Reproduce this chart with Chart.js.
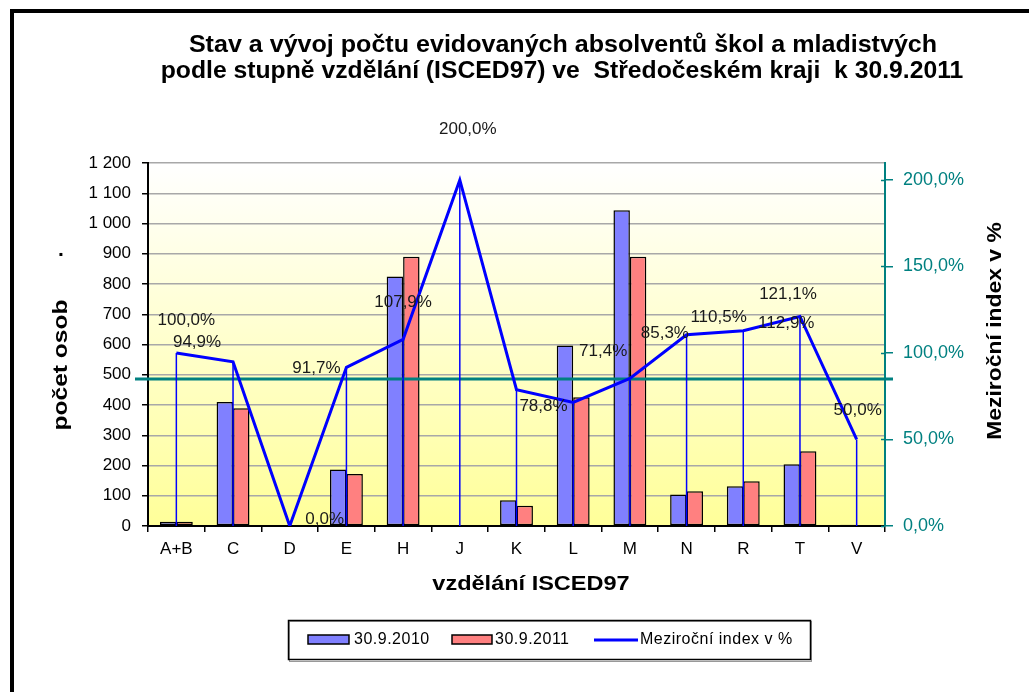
<!DOCTYPE html>
<html><head><meta charset="utf-8">
<script src="https://cdn.jsdelivr.net/npm/chart.js@4/dist/chart.umd.min.js"></script>
<style>html,body{margin:0;padding:0;background:#fff;overflow:hidden}canvas{display:block}</style>
</head><body>
<div style="width:1029px;height:692px;position:relative"><canvas id="c" width="1029" height="692"></canvas></div>
<script>
// ---- data ----
const categories = ['A+B','C','D','E','H','J','K','L','M','N','R','T','V'];
const values2010 = [14, 410, 2, 187, 825, 1, 85, 597, 1044, 104, 131, 204, 4];
const values2011 = [14, 389, 0, 172, 890, 2, 67, 426, 890, 115, 148, 247, 2];
const indexValues = [100.0, 94.9, 0.0, 91.7, 107.9, 200.0, 78.8, 71.4, 85.3, 110.5, 112.9, 121.1, 50.0];
const averageIndex = 85.0;
const leftTicks = [0,100,200,300,400,500,600,700,800,900,1000,1100,1200];
const rightTicks = [0,50,100,150,200];
const seriesLabels = ['30.9.2010','30.9.2011','Meziroční index v %'];
const titleLines = ['Stav a vývoj počtu evidovaných absolventů škol a mladistvých',
                    'podle stupně vzdělání (ISCED97) ve  Středočeském kraji  k 30.9.2011'];
const xTitle = 'vzdělání ISCED97';
const yTitle = 'počet osob';
const y1Title = 'Meziroční index v %';

// label placement offsets (px) relative to each line point
const labelOffsets = [[10,-33],[-36,-19],[35,-7],[-30,1],[0,-37],[8,-51],[27,17],[30,-51],[35,-45],[32,-17],[43,-7],[-12,-22],[1,-29]];

const FONT = '"Liberation Sans", Arial, sans-serif';
const fmtPct = v => v.toFixed(1).replace('.', ',') + '%';
const fmtNum = v => v >= 1000 ? Math.floor(v/1000) + ' ' + String(v%1000).padStart(3,'0') : String(v);

function stretchText(c, text, x, y, sx, rot) {
  c.save();
  c.translate(x, y);
  if (rot) c.rotate(rot);
  c.scale(sx, 1);
  c.fillText(text, 0, 0);
  c.restore();
}

const decor = {
  id: 'decor',
  beforeDraw(chart) {
    const c = chart.ctx, a = chart.chartArea;
    c.save();
    c.fillStyle = '#fff';
    c.fillRect(0, 0, chart.width, chart.height);
    const g = c.createLinearGradient(0, a.top, 0, a.bottom);
    g.addColorStop(0, '#ffffff');
    g.addColorStop(1, '#ffff99');
    c.fillStyle = g;
    c.fillRect(a.left, a.top, a.right - a.left, a.bottom - a.top);
    // outer frame
    c.fillStyle = '#000';
    c.fillRect(10, 9, chart.width - 10, 4);
    c.fillRect(10, 9, 4, chart.height - 9);
    c.restore();
  },
  afterDatasetDraw(chart, args) {
    if (args.index === 0) return;
    // very low bars: show their outline as a thin black line (as in the original)
    const c = chart.ctx;
    c.save();
    c.fillStyle = '#000';
    args.meta.data.forEach(el => {
      const h = Math.abs(el.base - el.y);
      if (h >= 0.5 && h < 2) c.fillRect(el.x - el.width / 2, el.base - 3, el.width, 2.5);
    });
    c.restore();
  },
  beforeDatasetDraw(chart, args) {
    if (args.index !== 0) return;
    const c = chart.ctx, a = chart.chartArea;
    const y1 = chart.scales.y1, x = chart.scales.x;
    c.save();
    // average line
    const ya = y1.getPixelForValue(averageIndex);
    c.strokeStyle = '#008080';
    c.lineWidth = 3;
    c.beginPath(); c.moveTo(a.left - 13, ya); c.lineTo(a.right + 8, ya); c.stroke();
    // drop lines
    c.strokeStyle = '#0000ff';
    c.lineWidth = 1.5;
    indexValues.forEach((v, i) => {
      const px = x.getPixelForValue(i);
      c.beginPath(); c.moveTo(px, y1.getPixelForValue(v)); c.lineTo(px, a.bottom); c.stroke();
    });
    c.restore();
  },
  afterDraw(chart) {
    const c = chart.ctx, a = chart.chartArea;
    const y1 = chart.scales.y1, x = chart.scales.x;
    c.save();
    // inner right ticks
    c.strokeStyle = '#008080'; c.lineWidth = 1.5;
    rightTicks.forEach(t => {
      const py = Math.round(y1.getPixelForValue(t)) + 0.5;
      c.beginPath(); c.moveTo(a.right - 4, py); c.lineTo(a.right, py); c.stroke();
    });
    // data labels
    c.fillStyle = '#1a1a1a';
    c.font = '17px ' + FONT;
    c.textAlign = 'center'; c.textBaseline = 'middle';
    indexValues.forEach((v, i) => {
      const px = x.getPixelForValue(i), py = y1.getPixelForValue(v);
      c.fillText(fmtPct(v), px + labelOffsets[i][0], py + labelOffsets[i][1]);
    });
    // title
    c.fillStyle = '#000';
    c.font = 'bold 23px ' + FONT;
    c.textBaseline = 'alphabetic';
    stretchText(c, titleLines[0], 563, 52, 1.09);
    stretchText(c, titleLines[1], 562, 78, 1.075);
    // axis titles
    c.font = 'bold 21px ' + FONT;
    c.textBaseline = 'middle';
    stretchText(c, xTitle, 531, 584, 1.12);
    stretchText(c, yTitle, 61, 365, 1.17, -Math.PI / 2);
    c.fillText('.', 61, 250);
    stretchText(c, y1Title, 995, 331, 1.09, -Math.PI / 2);
    // legend
    c.fillStyle = '#fff';
    c.fillRect(288, 620, 523, 40);
    c.strokeStyle = '#999'; c.lineWidth = 1;
    c.strokeRect(289.5, 621.5, 522, 40);
    c.strokeStyle = '#000'; c.lineWidth = 1.5;
    c.strokeRect(288.5, 620.5, 522, 39);
    const ly = 640;
    c.font = '16px ' + FONT; c.textAlign = 'left'; c.textBaseline = 'middle';
    c.letterSpacing = '0.5px';
    c.fillStyle = '#8080ff'; c.fillRect(308, 635, 41, 9); c.strokeRect(308, 635, 41, 9);
    c.fillStyle = '#000'; c.fillText(seriesLabels[0], 354, ly);
    c.fillStyle = '#ff8080'; c.fillRect(452, 635, 40, 9); c.strokeRect(452, 635, 40, 9);
    c.fillStyle = '#000'; c.fillText(seriesLabels[1], 495, ly);
    c.strokeStyle = '#0000ff'; c.lineWidth = 3;
    c.beginPath(); c.moveTo(594, ly); c.lineTo(638, ly); c.stroke();
    c.fillStyle = '#000'; c.fillText(seriesLabels[2], 640, ly);
    c.restore();
  }
};

new Chart(document.getElementById('c'), {
  type: 'bar',
  data: {
    labels: categories,
    datasets: [
      { type: 'line', label: seriesLabels[2], data: indexValues, yAxisID: 'y1',
        borderColor: '#0000ff', borderWidth: 3, pointRadius: 0, tension: 0, order: 0 },
      { label: seriesLabels[0], data: values2010, yAxisID: 'y', backgroundColor: '#8080ff',
        borderColor: '#000', borderWidth: 1.5, borderSkipped: false, order: 1 },
      { label: seriesLabels[1], data: values2011, yAxisID: 'y', backgroundColor: '#ff8080',
        borderColor: '#000', borderWidth: 1.5, borderSkipped: false, order: 1 }
    ]
  },
  options: {
    responsive: false, animation: false, events: [],
    layout: { padding: { top: 163, left: 0, right: 0, bottom: 0 } },
    datasets: { bar: { categoryPercentage: 0.58, barPercentage: 1 } },
    plugins: { legend: { display: false }, title: { display: false }, tooltip: { enabled: false } },
    scales: {
      x: {
        grid: { offset: true, drawOnChartArea: false, tickLength: 6, tickColor: '#000', lineWidth: 1.5 },
        border: { color: '#000', width: 2 },
        ticks: { color: '#000', font: { family: FONT, size: 17 }, padding: 7, maxRotation: 0, autoSkip: false },
        afterFit(s) { s.height = 166; }
      },
      y: {
        position: 'left', min: 0, max: 1200,
        afterBuildTicks(s) { s.ticks = leftTicks.map(v => ({ value: v })); },
        grid: { color: '#a8a8a8', lineWidth: 1.5, tickColor: '#000', tickLength: 6 },
        border: { color: '#000', width: 2 },
        ticks: { color: '#000', font: { family: FONT, size: 17 }, padding: 11, callback: v => fmtNum(v) },
        afterFit(s) { s.width = 148; }
      },
      y1: {
        position: 'right', min: 0, max: 209.8,
        afterBuildTicks(s) { s.ticks = rightTicks.map(v => ({ value: v })); },
        grid: { drawOnChartArea: false, tickLength: 8, tickColor: '#008080', lineWidth: 1.5 },
        border: { color: '#008080', width: 2 },
        ticks: { color: '#008080', font: { family: FONT, size: 18 }, padding: 10, callback: v => fmtPct(v) },
        afterFit(s) { s.width = 144; }
      }
    }
  },
  plugins: [decor]
});
</script>
</body></html>
